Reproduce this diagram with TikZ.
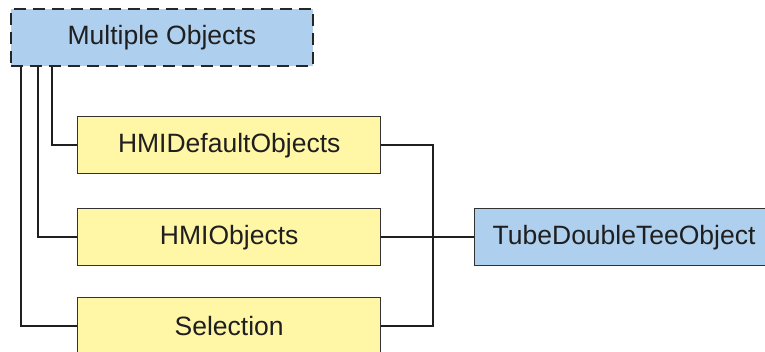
\documentclass[tikz,border=0pt]{standalone}
\usepackage{fontspec}
\setmainfont{Liberation Sans}
\definecolor{boxblue}{RGB}{174,207,238}
\definecolor{boxyellow}{RGB}{255,246,166}
\definecolor{edge}{RGB}{50,50,50}
\begin{document}
\begin{tikzpicture}[x=1pt,y=-1pt,
  box/.style={draw=edge,line width=1.4pt,minimum height=57pt,inner sep=0pt,font=\fontsize{26.5}{30}\selectfont,text=black!88},
  ybox/.style={box,fill=boxyellow,minimum width=303pt},
  bbox/.style={box,fill=boxblue},
  conn/.style={draw=black!88,line width=1.5pt}]
\useasboundingbox (0,0) rectangle (765,352);
\node[bbox,draw=black!85,line width=1.7pt,dash pattern=on 12pt off 7pt,minimum width=302pt,anchor=north west] (mo) at (10,8) {Multiple Objects};
\node[ybox,anchor=north west] (hd) at (77,116) {HMIDefaultObjects};
\node[ybox,anchor=north west] (ho) at (77,208) {HMIObjects};
\node[ybox,anchor=north west] (se) at (77,297) {Selection};
\node[bbox,minimum width=310pt,anchor=north west,text width=274pt,align=left] (tt) at (474,208) {TubeDoubleTeeObject};
\coordinate (j) at (ho.east -| 433,0);
\draw[conn] (mo.south west -| 52,0) |- (hd.west);
\draw[conn] (mo.south west -| 38,0) |- (ho.west);
\draw[conn] (mo.south west -| 21,0) |- (se.west);
\draw[conn] (hd.east) -| (j);
\draw[conn] (se.east) -| (j);
\draw[conn] (ho.east) -- (tt.west);
\end{tikzpicture}
\end{document}
